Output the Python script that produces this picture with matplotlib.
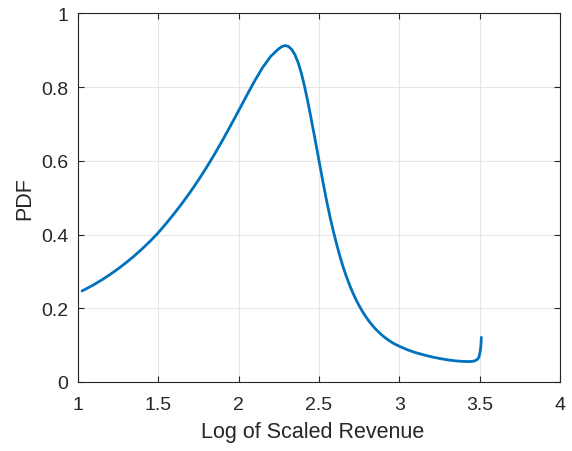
import matplotlib
matplotlib.use("Agg")
import matplotlib.pyplot as plt

# Data
log_revenue = [1.025, 1.05, 1.10, 1.15, 1.20, 1.25, 1.30, 1.35, 1.40, 1.45,
               1.50, 1.55, 1.60, 1.65, 1.70, 1.75, 1.80, 1.85, 1.90, 1.95,
               2.00, 2.05, 2.10, 2.15, 2.20, 2.25, 2.27, 2.29, 2.31, 2.33,
               2.35, 2.37, 2.39, 2.41, 2.43, 2.45, 2.47, 2.49, 2.51, 2.53,
               2.55, 2.57, 2.59, 2.61, 2.63, 2.65, 2.67, 2.69, 2.71, 2.73,
               2.75, 2.77, 2.79, 2.81, 2.83, 2.85, 2.87, 2.89, 2.91, 2.94,
               2.97, 3.00, 3.05, 3.10, 3.15, 3.20, 3.25, 3.30, 3.35, 3.40,
               3.43, 3.45, 3.47, 3.485, 3.495, 3.50, 3.504, 3.507, 3.509, 3.51]
pdf_vals = [0.247, 0.2525, 0.2643, 0.2774, 0.2917, 0.3072, 0.3239, 0.3419, 0.3614, 0.3824,
            0.4051, 0.4306, 0.4575, 0.4859, 0.5160, 0.5480, 0.5820, 0.6180, 0.6560, 0.6955,
            0.7360, 0.7770, 0.8170, 0.8535, 0.8835, 0.9040, 0.9100, 0.9125, 0.9100, 0.9020,
            0.8880, 0.8665, 0.8378, 0.8021, 0.7611, 0.7169, 0.6709, 0.6240, 0.5768, 0.5302,
            0.4857, 0.4447, 0.4078, 0.3734, 0.3412, 0.3124, 0.2866, 0.2634, 0.2425, 0.2237,
            0.2068, 0.1916, 0.1780, 0.1657, 0.1547, 0.1448, 0.1359, 0.1279, 0.1207, 0.1113,
            0.1032, 0.0970, 0.0874, 0.0798, 0.0738, 0.0683, 0.0638, 0.0601, 0.0573, 0.0557,
            0.0554, 0.0558, 0.0575, 0.0610, 0.0670, 0.0760, 0.0850, 0.0960, 0.1080, 0.1210]

xticks = [1, 1.5, 2, 2.5, 3, 3.5, 4]
xtick_labels = ["1", "1.5", "2", "2.5", "3", "3.5", "4"]
yticks = [0, 0.2, 0.4, 0.6, 0.8, 1]
ytick_labels = ["0", "0.2", "0.4", "0.6", "0.8", "1"]

plt.rcParams['font.family'] = ['Liberation Sans', 'DejaVu Sans']

fig = plt.figure(figsize=(5.72, 4.52), dpi=100)
ax = fig.add_axes([78/572, 69/452, (560-78)/572, (383-14.3)/452])

ax.plot(log_revenue, pdf_vals, color='#0072BD', linewidth=2.0,
        solid_capstyle='round', solid_joinstyle='round', zorder=3)

ax.set_xlim(1, 4)
ax.set_ylim(0, 1)
ax.set_xticks(xticks)
ax.set_xticklabels(xtick_labels)
ax.set_yticks(yticks)
ax.set_yticklabels(ytick_labels)

axis_color = '#262626'
for s in ax.spines.values():
    s.set_color(axis_color)
    s.set_linewidth(0.8)
ax.tick_params(direction='in', length=4, width=0.8, color=axis_color,
               labelcolor=axis_color, labelsize=14, top=True, right=True)
ax.tick_params(axis='x', pad=10)
ax.tick_params(axis='y', pad=7)
ax.grid(True, color='#e6e6e6', linewidth=0.8)
ax.set_axisbelow(True)

ax.set_xlabel('Log of Scaled Revenue', fontsize=15.5, color=axis_color, labelpad=6)
ax.set_ylabel('PDF', fontsize=15.5, color=axis_color, labelpad=4)
ax.xaxis.set_label_coords(0.4865, -0.105)

fig.savefig('out.png', dpi=100)
